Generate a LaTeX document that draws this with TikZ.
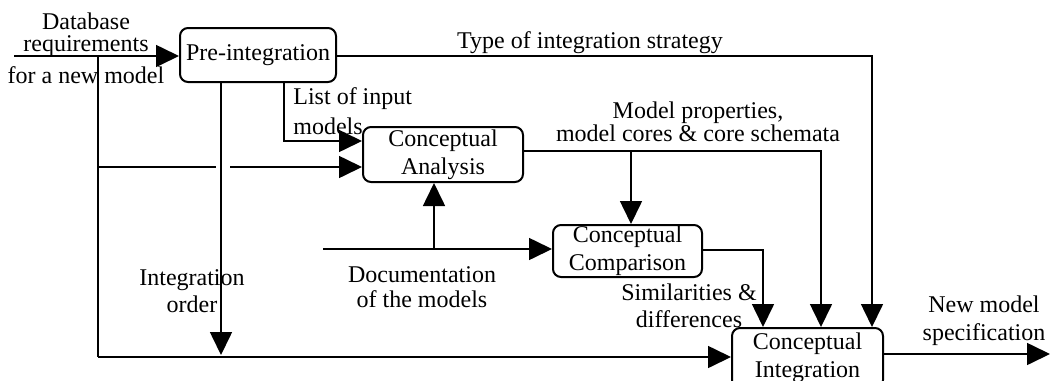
\documentclass[tikz,border=0pt]{standalone}
\usepackage{fontspec}
\setmainfont{Liberation Serif}
\usetikzlibrary{arrows.meta}
\begin{document}
\begin{tikzpicture}[x=0.5pt,y=-0.5pt,
  every node/.style={font=\fontsize{12}{14}\selectfont},
  proc/.style={draw, line width=1pt, rounded corners=4pt, align=center, inner sep=0pt},
  link/.style={line width=0.8pt},
  flow/.style={link, -{Triangle[length=11.5pt,width=11pt]}},
  lbl/.style={align=center, inner sep=0pt, anchor=base}]
\useasboundingbox (0,0) rectangle (1052,380);

% process boxes
\node[proc, minimum width=78pt,   minimum height=27pt]   (pre)   at (258,55)    {Pre-integration};
\node[proc, minimum width=80pt,   minimum height=27.5pt] (ana)   at (443,154.5) {Conceptual\\Analysis};
\node[proc, minimum width=74.5pt, minimum height=26pt]   (comp)  at (627.5,251) {Conceptual\\Comparison};
\node[proc, minimum width=75.5pt, minimum height=30pt]   (integ) at (807.5,358) {Conceptual\\Integration};

% bend and junction points
\coordinate (din)  at (14,56);
\coordinate (dj)   at (98,56);
\coordinate (djb)  at (98,357);
\coordinate (ja)   at (98,167);
\coordinate (ord)  at (221,355);
\coordinate (lst)  at (284,141);
\coordinate (st)   at (872,56);
\coordinate (mp)   at (821,151);
\coordinate (mpj)  at (631,151);
\coordinate (doc)  at (323,249);
\coordinate (docj) at (434,249);
\coordinate (sim)  at (763,250);
\coordinate (out)  at (1050,354);

% requirements feed
\draw[flow] (din) -- (pre.west |- din);
\draw[link] (dj) -- (djb);
\draw[flow] (djb) -- (integ.west |- djb);
\draw[link] (ja) -- ++(118,0);
\draw[flow] (ja) ++(132,0) -- (ana.west |- ja);

% outputs of pre-integration
\draw[flow] (pre.south -| ord) -- (ord);
\draw[flow] (pre.south -| lst) -- (lst) -- (ana.west |- lst);
\draw[flow] (pre.east |- st) -- (st) -- (integ.north -| st);

% outputs of conceptual analysis
\draw[flow] (ana.east |- mp) -- (mp) -- (integ.north -| mp);
\draw[flow] (mpj) -- (comp.north -| mpj);

% documentation of the models
\draw[flow] (doc) -- (comp.west |- doc);
\draw[flow] (docj) -- (ana.south -| docj);

% comparison results
\draw[flow] (comp.east |- sim) -- (sim) -- (integ.north -| sim);

% result
\draw[flow] (integ.east |- out) -- (out);

% labels (anchored on the baseline of their last line)
\node[lbl, font=\fontsize{12}{11}\selectfont] (lreq) at (86,83) {Database\\requirements\\[3.5pt]for a new model};
\node[lbl] (lstrat) at (590,48) {Type of integration strategy};
\node[lbl, anchor=base west, align=left, font=\fontsize{12}{15}\selectfont] (llist) at (293,134) {List of input\\models};
\node[lbl, font=\fontsize{12}{11.5}\selectfont] (lprop) at (698,141) {Model properties,\\model cores \& core schemata};
\node[lbl, font=\fontsize{12}{12.5}\selectfont] (ldoc) at (422,307) {Documentation\\of the models};
\node[lbl, font=\fontsize{12}{13.5}\selectfont] (lord) at (192,312) {Integration\\order};
\node[lbl, font=\fontsize{12}{13.5}\selectfont] (lsim) at (689,327) {Similarities \&\\differences};
\node[lbl] (lnew) at (984,340) {New model\\specification};
\end{tikzpicture}
\end{document}
